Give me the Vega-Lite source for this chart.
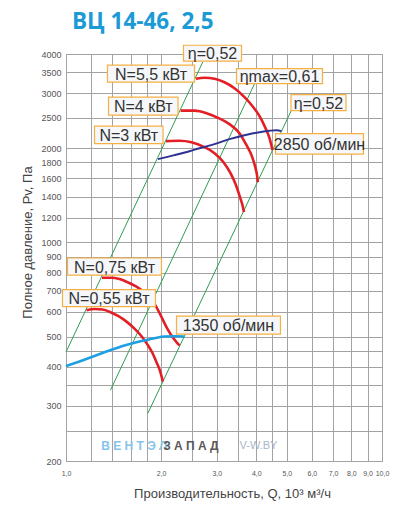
{
  "$schema": "https://vega.github.io/schema/vega-lite/v6.json",
  "width": 316,
  "height": 407,
  "autosize": {"type": "none"},
  "padding": {"left": 66, "top": 54, "right": 13, "bottom": 50},
  "background": "white",
  "title": {
    "text": "ВЦ 14-46, 2,5",
    "anchor": "start",
    "frame": "group",
    "dx": 6,
    "offset": 11,
    "font": "Open Sans",
    "fontSize": 22.5,
    "fontWeight": "bold",
    "color": "#1c9ad6"
  },
  "config": {
    "view": {"stroke": "#8c8c8c", "strokeWidth": 1},
    "font": "Liberation Sans"
  },
  "datasets": {
    "curves": [
      {"s": "eta1", "i": 0, "q": 1.0, "p": 446},
      {"s": "eta1", "i": 1, "q": 2.71, "p": 3774},
      {"s": "eta2", "i": 0, "q": 1.383, "p": 337},
      {"s": "eta2", "i": 1, "q": 3.95, "p": 3214},
      {"s": "eta3", "i": 0, "q": 1.815, "p": 284},
      {"s": "eta3", "i": 1, "q": 5.17, "p": 2645},
      {"s": "N5.5", "i": 0, "q": 2.578, "p": 3334},
      {"s": "N5.5", "i": 1, "q": 2.744, "p": 3359},
      {"s": "N5.5", "i": 2, "q": 2.951, "p": 3334},
      {"s": "N5.5", "i": 3, "q": 3.174, "p": 3250},
      {"s": "N5.5", "i": 4, "q": 3.414, "p": 3110},
      {"s": "N5.5", "i": 5, "q": 3.672, "p": 2911},
      {"s": "N5.5", "i": 6, "q": 3.893, "p": 2724},
      {"s": "N5.5", "i": 7, "q": 4.097, "p": 2531},
      {"s": "N5.5", "i": 8, "q": 4.279, "p": 2318},
      {"s": "N5.5", "i": 9, "q": 4.405, "p": 2152},
      {"s": "N5.5", "i": 10, "q": 4.503, "p": 1971},
      {"s": "N4", "i": 0, "q": 2.305, "p": 2636},
      {"s": "N4", "i": 1, "q": 2.551, "p": 2636},
      {"s": "N4", "i": 2, "q": 2.784, "p": 2588},
      {"s": "N4", "i": 3, "q": 3.016, "p": 2504},
      {"s": "N4", "i": 4, "q": 3.291, "p": 2387},
      {"s": "N4", "i": 5, "q": 3.54, "p": 2234},
      {"s": "N4", "i": 6, "q": 3.726, "p": 2044},
      {"s": "N4", "i": 7, "q": 3.864, "p": 1900},
      {"s": "N4", "i": 8, "q": 3.964, "p": 1752},
      {"s": "N4", "i": 9, "q": 4.022, "p": 1640},
      {"s": "N4", "i": 10, "q": 4.046, "p": 1557},
      {"s": "N3", "i": 0, "q": 2.072, "p": 2106},
      {"s": "N3", "i": 1, "q": 2.287, "p": 2113},
      {"s": "N3", "i": 2, "q": 2.495, "p": 2090},
      {"s": "N3", "i": 3, "q": 2.744, "p": 2015},
      {"s": "N3", "i": 4, "q": 2.951, "p": 1928},
      {"s": "N3", "i": 5, "q": 3.151, "p": 1804},
      {"s": "N3", "i": 6, "q": 3.316, "p": 1664},
      {"s": "N3", "i": 7, "q": 3.451, "p": 1523},
      {"s": "N3", "i": 8, "q": 3.553, "p": 1395},
      {"s": "N3", "i": 9, "q": 3.618, "p": 1315},
      {"s": "N3", "i": 10, "q": 3.658, "p": 1249},
      {"s": "n2850", "i": 0, "q": 1.955, "p": 1845},
      {"s": "n2850", "i": 1, "q": 2.204, "p": 1900},
      {"s": "n2850", "i": 2, "q": 2.459, "p": 1956},
      {"s": "n2850", "i": 3, "q": 2.646, "p": 2000},
      {"s": "n2850", "i": 4, "q": 2.951, "p": 2060},
      {"s": "n2850", "i": 5, "q": 3.291, "p": 2138},
      {"s": "n2850", "i": 6, "q": 3.672, "p": 2201},
      {"s": "n2850", "i": 7, "q": 4.097, "p": 2250},
      {"s": "n2850", "i": 8, "q": 4.405, "p": 2274},
      {"s": "n2850", "i": 9, "q": 4.636, "p": 2283},
      {"s": "n2850", "i": 10, "q": 4.808, "p": 2267},
      {"s": "N0.75", "i": 0, "q": 1.3, "p": 771},
      {"s": "N0.75", "i": 1, "q": 1.393, "p": 771},
      {"s": "N0.75", "i": 2, "q": 1.477, "p": 763},
      {"s": "N0.75", "i": 3, "q": 1.565, "p": 746},
      {"s": "N0.75", "i": 4, "q": 1.66, "p": 725},
      {"s": "N0.75", "i": 5, "q": 1.759, "p": 696},
      {"s": "N0.75", "i": 6, "q": 1.851, "p": 663},
      {"s": "N0.75", "i": 7, "q": 1.933, "p": 621},
      {"s": "N0.75", "i": 8, "q": 2.021, "p": 568},
      {"s": "N0.75", "i": 9, "q": 2.096, "p": 528},
      {"s": "N0.75", "i": 10, "q": 2.173, "p": 498},
      {"s": "N0.75", "i": 11, "q": 2.237, "p": 480},
      {"s": "N0.75", "i": 12, "q": 2.287, "p": 468},
      {"s": "N0.55", "i": 0, "q": 1.161, "p": 607},
      {"s": "N0.55", "i": 1, "q": 1.231, "p": 612},
      {"s": "N0.55", "i": 2, "q": 1.305, "p": 610},
      {"s": "N0.55", "i": 3, "q": 1.383, "p": 598},
      {"s": "N0.55", "i": 4, "q": 1.466, "p": 581},
      {"s": "N0.55", "i": 5, "q": 1.554, "p": 558},
      {"s": "N0.55", "i": 6, "q": 1.647, "p": 530},
      {"s": "N0.55", "i": 7, "q": 1.734, "p": 501},
      {"s": "N0.55", "i": 8, "q": 1.811, "p": 471},
      {"s": "N0.55", "i": 9, "q": 1.878, "p": 443},
      {"s": "N0.55", "i": 10, "q": 1.933, "p": 414},
      {"s": "N0.55", "i": 11, "q": 1.984, "p": 388},
      {"s": "N0.55", "i": 12, "q": 2.025, "p": 359},
      {"s": "n1350", "i": 0, "q": 1.0, "p": 402},
      {"s": "n1350", "i": 1, "q": 1.103, "p": 416},
      {"s": "n1350", "i": 2, "q": 1.231, "p": 433},
      {"s": "n1350", "i": 3, "q": 1.373, "p": 451},
      {"s": "n1350", "i": 4, "q": 1.531, "p": 468},
      {"s": "n1350", "i": 5, "q": 1.708, "p": 482},
      {"s": "n1350", "i": 6, "q": 1.906, "p": 494},
      {"s": "n1350", "i": 7, "q": 2.05, "p": 500},
      {"s": "n1350", "i": 8, "q": 2.204, "p": 501},
      {"s": "n1350", "i": 9, "q": 2.371, "p": 500}
    ],
    "boxes": [
      {"label": "η=0,52", "q": 2.354, "q2": 3.593, "p": 3794, "p2": 4266},
      {"label": "N=5,5 кВт", "q": 1.353, "q2": 2.551, "p": 3250, "p2": 3684},
      {"label": "ηmax=0,61", "q": 3.464, "q2": 6.482, "p": 3214, "p2": 3590},
      {"label": "N=4 кВт", "q": 1.363, "q2": 2.262, "p": 2550, "p2": 2911},
      {"label": "η=0,52", "q": 5.152, "q2": 7.692, "p": 2636, "p2": 2965},
      {"label": "N=3 кВт", "q": 1.231, "q2": 2.028, "p": 2067, "p2": 2352},
      {"label": "2850 об/мин", "q": 4.603, "q2": 8.737, "p": 1914, "p2": 2225},
      {"label": "N=0,75 кВт", "q": 1.011, "q2": 2.005, "p": 786, "p2": 891},
      {"label": "N=0,55 кВт", "q": 0.9748, "q2": 1.919, "p": 623, "p2": 706},
      {"label": "1350 об/мин", "q": 2.237, "q2": 4.772, "p": 509, "p2": 581}
    ],
    "texts": [
      {"label": "η=0,52", "q": 2.908, "p": 4023},
      {"label": "N=5,5 кВт", "q": 1.858, "p": 3460},
      {"label": "ηmax=0,61", "q": 4.739, "p": 3397},
      {"label": "N=4 кВт", "q": 1.756, "p": 2725},
      {"label": "η=0,52", "q": 6.295, "p": 2796},
      {"label": "N=3 кВт", "q": 1.58, "p": 2205},
      {"label": "2850 об/мин", "q": 6.342, "p": 2064},
      {"label": "N=0,75 кВт", "q": 1.424, "p": 837},
      {"label": "N=0,55 кВт", "q": 1.368, "p": 663},
      {"label": "1350 об/мин", "q": 3.267, "p": 544}
    ],
    "marks": [
      {"part": "a", "label": "В Е Н Т Э Л", "q": 1.292, "p": 223},
      {"part": "b", "label": "З А П А Д", "q": 2.03, "p": 223},
      {"part": "c", "label": "V-W.BY", "q": 3.54, "p": 223}
    ]
  },
  "encoding": {
    "x": {
      "field": "q",
      "type": "quantitative",
      "scale": {"type": "log", "domain": [1, 10], "nice": false, "zero": false},
      "axis": {
        "title": "Производительность, Q, 10³ м³/ч",
        "values": [1, 1.2, 1.4, 1.6, 1.8, 2, 2.5, 3, 3.5, 4, 4.5, 5, 6, 7, 8, 9, 10],
        "labelExpr": "indexof([1,2,3,4,5,6,7,8,9,10], datum.value) >= 0 ? replace(format(datum.value, '.1f'), '.', ',') : ''",
        "labelFontSize": 7,
        "labelColor": "#555555",
        "labelFlush": false,
        "labelOverlap": false,
        "labelPadding": 8,
        "ticks": false,
        "domain": false,
        "grid": true,
        "gridColor": "#a3a3a3",
        "gridWidth": 1,
        "gridOpacity": 1,
        "titleFontSize": 13,
        "titleFontWeight": "normal",
        "titleColor": "#444444",
        "titleX": 166,
        "titleY": 32,
        "titleBaseline": "middle"
      }
    },
    "y": {
      "field": "p",
      "type": "quantitative",
      "scale": {"type": "log", "domain": [200, 4000], "nice": false, "zero": false},
      "axis": {
        "title": "Полное давление, Pv, Па",
        "values": [200, 250, 300, 350, 400, 450, 500, 600, 700, 800, 900, 1000, 1200, 1400, 1600, 1800, 2000, 2500, 3000, 3500, 4000],
        "labelExpr": "(datum.value == 250 || datum.value == 350 || datum.value == 450) ? '' : datum.value",
        "labelFontSize": 9,
        "labelColor": "#555555",
        "labelOverlap": false,
        "labelPadding": 5,
        "ticks": false,
        "domain": false,
        "grid": true,
        "gridColor": "#a3a3a3",
        "gridWidth": 1,
        "gridOpacity": 1,
        "titleFontSize": 13,
        "titleFontWeight": "normal",
        "titleColor": "#444444",
        "titleAngle": -90,
        "titleX": -39,
        "titleY": 188,
        "titleBaseline": "middle",
        "titleAlign": "center"
      }
    }
  },
  "layer": [
    {
      "data": {"name": "marks"},
      "transform": [{"filter": "datum.part == 'a'"}],
      "mark": {"type": "text", "align": "left", "baseline": "middle", "fontSize": 12, "fontWeight": "bold", "color": "#86c3ea"},
      "encoding": {"text": {"field": "label"}}
    },
    {
      "data": {"name": "marks"},
      "transform": [{"filter": "datum.part == 'b'"}],
      "mark": {"type": "text", "align": "left", "baseline": "middle", "fontSize": 12, "fontWeight": "bold", "color": "#5a5a5a"},
      "encoding": {"text": {"field": "label"}}
    },
    {
      "data": {"name": "marks"},
      "transform": [{"filter": "datum.part == 'c'"}],
      "mark": {"type": "text", "align": "left", "baseline": "middle", "fontSize": 11, "color": "#aab6c8"},
      "encoding": {"text": {"field": "label"}}
    },
    {
      "data": {"name": "curves"},
      "transform": [{"filter": "indexof(['eta1','eta2','eta3'], datum.s) >= 0"}],
      "mark": {"type": "line", "color": "#2f9e4f", "strokeWidth": 1},
      "encoding": {
        "detail": {"field": "s"},
        "order": {"field": "i", "type": "quantitative"}
      }
    },
    {
      "data": {"name": "curves"},
      "transform": [{"filter": "indexof(['N5.5','N4','N3','N0.75','N0.55'], datum.s) >= 0"}],
      "mark": {"type": "line", "color": "#e31e24", "strokeWidth": 2.6, "interpolate": "monotone", "strokeCap": "butt"},
      "encoding": {
        "detail": {"field": "s"},
        "order": {"field": "i", "type": "quantitative"}
      }
    },
    {
      "data": {"name": "curves"},
      "transform": [{"filter": "datum.s == 'n2850'"}],
      "mark": {"type": "line", "color": "#2e3192", "strokeWidth": 2, "interpolate": "monotone"},
      "encoding": {
        "order": {"field": "i", "type": "quantitative"}
      }
    },
    {
      "data": {"name": "curves"},
      "transform": [{"filter": "datum.s == 'n1350'"}],
      "mark": {"type": "line", "color": "#1e9fe3", "strokeWidth": 2.6, "interpolate": "monotone"},
      "encoding": {
        "order": {"field": "i", "type": "quantitative"}
      }
    },
    {
      "data": {"name": "boxes"},
      "mark": {"type": "rect", "fill": "#f5f7fa", "stroke": "#f6b042", "strokeWidth": 1.2},
      "encoding": {
        "x2": {"field": "q2"},
        "y2": {"field": "p2"}
      }
    },
    {
      "data": {"name": "texts"},
      "mark": {"type": "text", "align": "center", "baseline": "middle", "fontSize": 16, "color": "#333333", "dy": 1},
      "encoding": {"text": {"field": "label"}}
    }
  ]
}
